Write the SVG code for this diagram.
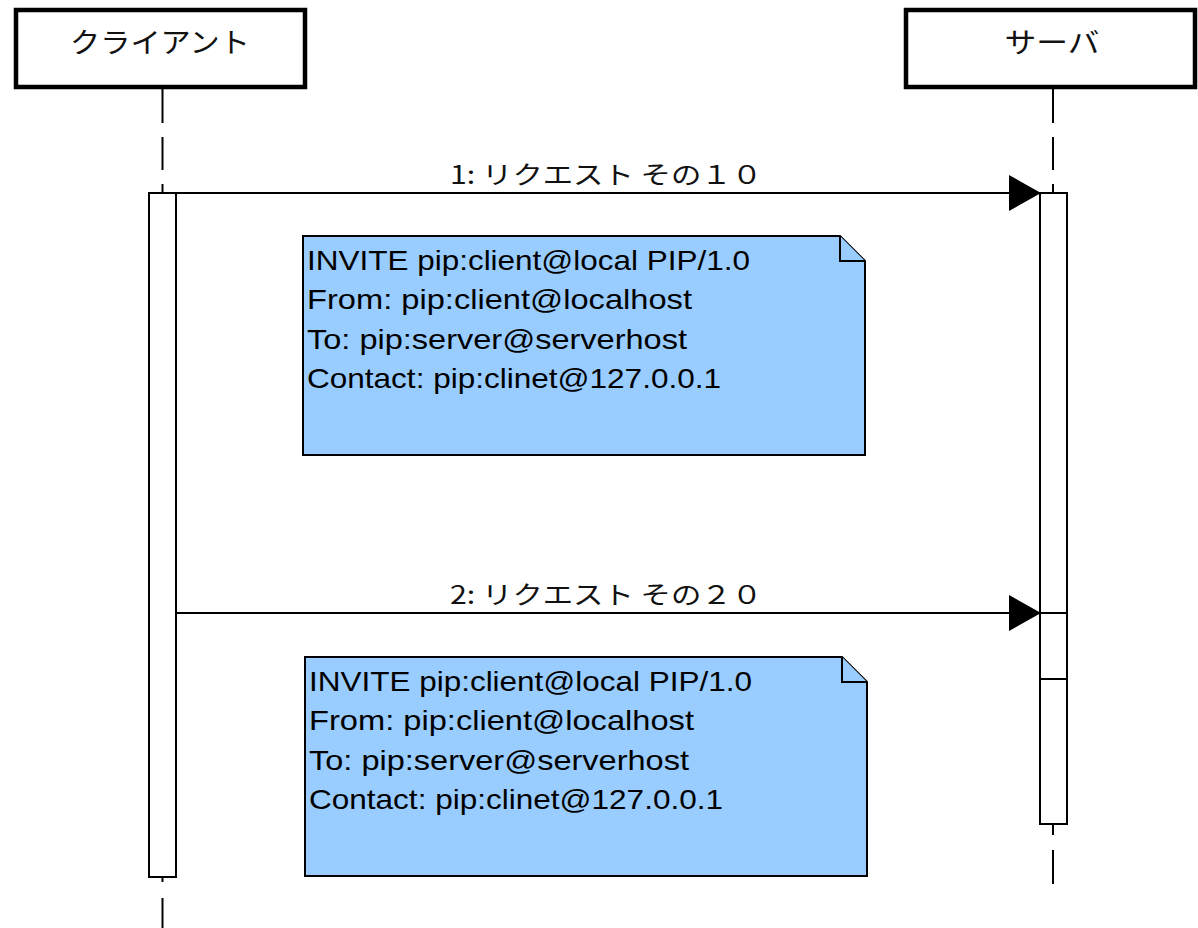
<svg xmlns="http://www.w3.org/2000/svg" width="1198" height="928" viewBox="0 0 1198 928">
  <style>
    .head { fill: #ffffff; stroke: #000000; stroke-width: 4.5; }
    .head-label { font-family: "Noto Sans CJK JP", sans-serif; font-size: 28px; fill: #111111; text-anchor: middle; }
    .life { stroke: #000000; stroke-width: 2; fill: none; }
    .act { fill: #ffffff; stroke: #000000; stroke-width: 2; }
    .msg { stroke: #000000; stroke-width: 2; fill: none; marker-end: url(#tri); }
    .msg-label { font-family: "Noto Sans CJK JP", sans-serif; font-size: 25px; fill: #111111; }
    .note { fill: #99ccff; stroke: #000000; stroke-width: 2; }
    .note-text { font-family: "Liberation Sans", Arial, sans-serif; font-size: 28px; fill: #000000; }
  </style>
  <defs>
    <marker id="tri" viewBox="0 0 32 36" refX="32" refY="18" markerWidth="32" markerHeight="36" markerUnits="userSpaceOnUse" orient="auto">
      <path d="M0,0 L32,18 L0,36 Z" fill="#000000"/>
    </marker>
  </defs>

  <rect width="1198" height="928" fill="#ffffff"/>

  <!-- participant: client -->
  <g id="client">
    <rect class="head" x="16" y="10" width="289" height="77"/>
    <text class="head-label" x="160" y="53" textLength="180" lengthAdjust="spacingAndGlyphs">クライアント</text>
    <path class="life" d="M162.5,89 V123 M162.5,137 V170 M162.5,184 V193 M162.5,877 V882 M162.5,898 V928"/>
    <rect class="act" x="149" y="193" width="27" height="684"/>
  </g>

  <!-- participant: server -->
  <g id="server">
    <rect class="head" x="906" y="10" width="289" height="77"/>
    <text class="head-label" x="1052" y="53" textLength="95" lengthAdjust="spacingAndGlyphs">サーバ</text>
    <path class="life" d="M1053,89 V123 M1053,137 V170 M1053,184 V193 M1053,824 V835 M1053,850 V884"/>
    <rect class="act" x="1040" y="193" width="27" height="631"/>
    <path class="life" d="M1040,613 H1067 M1040,679 H1067"/>
  </g>

  <!-- messages -->
  <g id="connectors">
    <line class="msg" x1="176" y1="193" x2="1041" y2="193"/>
    <text class="msg-label" x="450" y="184" textLength="312" lengthAdjust="spacingAndGlyphs">1: リクエスト その１０</text>
    <line class="msg" x1="176" y1="613" x2="1041" y2="613"/>
    <text class="msg-label" x="450" y="604" textLength="312" lengthAdjust="spacingAndGlyphs">2: リクエスト その２０</text>
  </g>

  <!-- note attached to request 1 -->
  <g id="note1">
    <path class="note" d="M303,236 H840 L865,261 V455 H303 Z"/>
    <path class="note" d="M840,236 V261 H865" fill="none"/>
    <text class="note-text" x="307" y="270" textLength="443" lengthAdjust="spacingAndGlyphs">INVITE pip:client@local PIP/1.0</text>
    <text class="note-text" x="307" y="309" textLength="385" lengthAdjust="spacingAndGlyphs">From: pip:client@localhost</text>
    <text class="note-text" x="307" y="349" textLength="380" lengthAdjust="spacingAndGlyphs">To: pip:server@serverhost</text>
    <text class="note-text" x="307" y="388" textLength="414" lengthAdjust="spacingAndGlyphs">Contact: pip:clinet@127.0.0.1</text>
  </g>

  <!-- note attached to request 2 -->
  <g id="note2">
    <path class="note" d="M305,657 H842 L867,682 V876 H305 Z"/>
    <path class="note" d="M842,657 V682 H867" fill="none"/>
    <text class="note-text" x="309" y="691" textLength="443" lengthAdjust="spacingAndGlyphs">INVITE pip:client@local PIP/1.0</text>
    <text class="note-text" x="309" y="730" textLength="385" lengthAdjust="spacingAndGlyphs">From: pip:client@localhost</text>
    <text class="note-text" x="309" y="770" textLength="380" lengthAdjust="spacingAndGlyphs">To: pip:server@serverhost</text>
    <text class="note-text" x="309" y="809" textLength="414" lengthAdjust="spacingAndGlyphs">Contact: pip:clinet@127.0.0.1</text>
  </g>
</svg>
